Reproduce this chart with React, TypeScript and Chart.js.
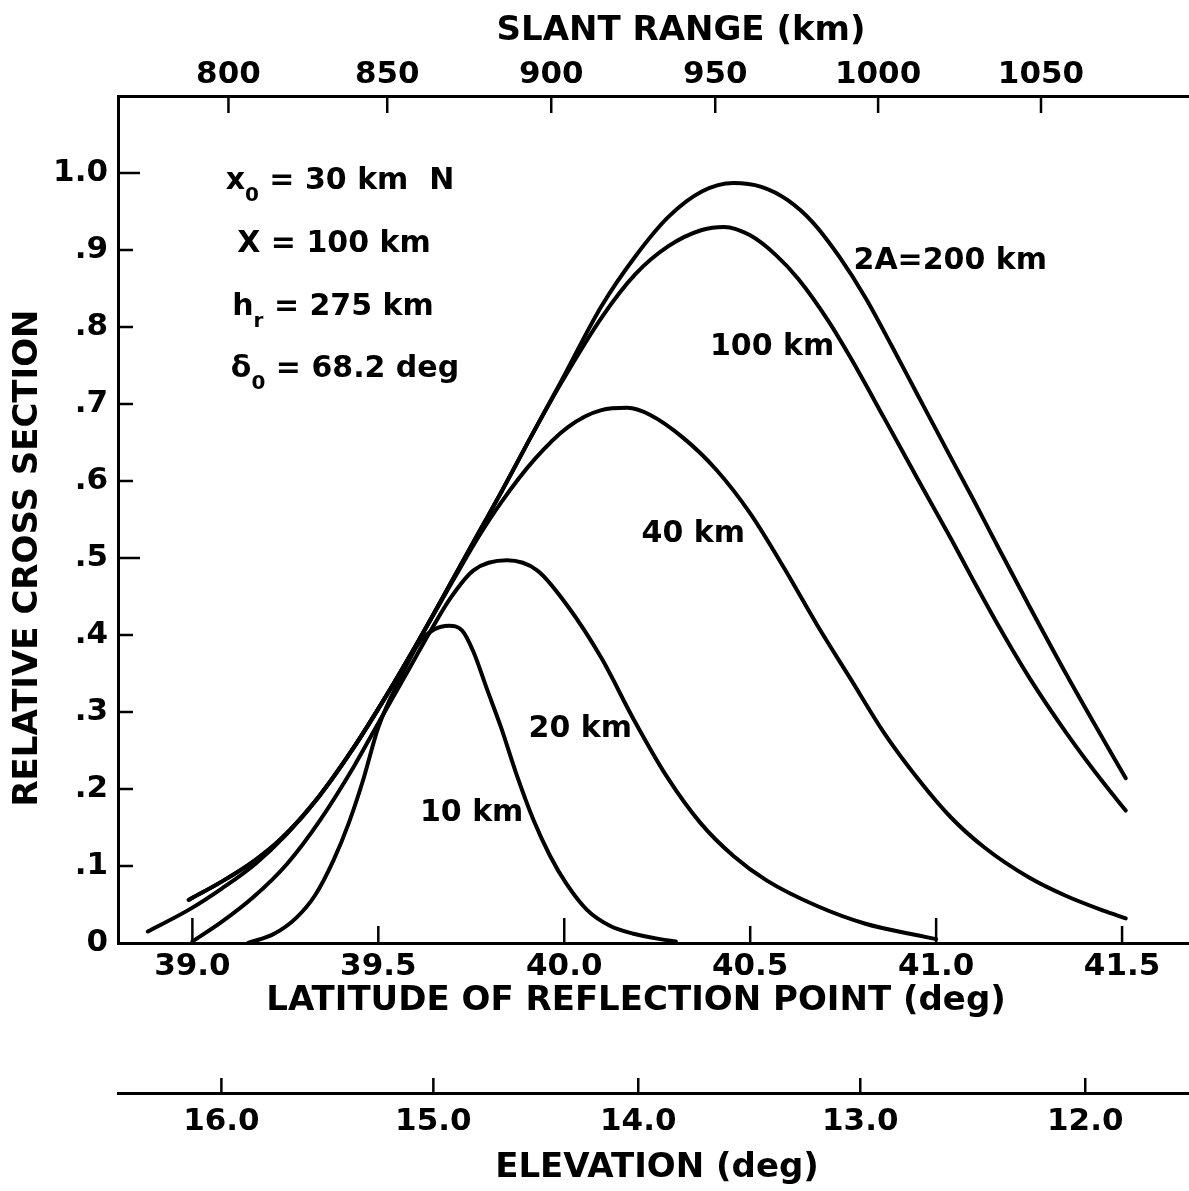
import React, { useEffect, useRef } from "react";
import { Chart, registerables } from "chart.js";

Chart.register(...registerables);

// ---- axis ticks ----
const latTicks = [39.0, 39.5, 40.0, 40.5, 41.0, 41.5];
const yTicks = [0, 0.1, 0.2, 0.3, 0.4, 0.5, 0.6, 0.7, 0.8, 0.9, 1.0];
const yTickLabels = ["0", ".1", ".2", ".3", ".4", ".5", ".6", ".7", ".8", ".9", "1.0"];
const slantRangeTicks = [800, 850, 900, 950, 1000, 1050];
const slantRangeTickLat = [39.097, 39.524, 39.965, 40.406, 40.844, 41.282];
const elevationTicks = ["16.0", "15.0", "14.0", "13.0", "12.0"];
const elevationTickLat = [39.078, 39.648, 40.199, 40.796, 41.401];

// ---- series: latitude (deg) vs relative cross section ----
const lat200 = [38.99, 39.08, 39.17, 39.24, 39.34, 39.43, 39.52, 39.61, 39.70, 39.77, 39.83, 39.91, 39.99, 40.10, 40.19, 40.28, 40.37, 40.455, 40.53, 40.60, 40.67, 40.74, 40.81, 40.88, 40.95, 41.04, 41.10, 41.17, 41.25, 41.35, 41.45, 41.51];
const rcs200 = [0.056, 0.080, 0.108, 0.136, 0.190, 0.251, 0.320, 0.394, 0.472, 0.533, 0.585, 0.657, 0.728, 0.827, 0.891, 0.943, 0.976, 0.987, 0.982, 0.965, 0.935, 0.891, 0.838, 0.776, 0.712, 0.630, 0.576, 0.511, 0.438, 0.349, 0.264, 0.214];

const lat100 = [38.99, 39.08, 39.17, 39.24, 39.34, 39.43, 39.52, 39.61, 39.70, 39.77, 39.83, 39.91, 39.99, 40.10, 40.19, 40.28, 40.37, 40.43, 40.50, 40.57, 40.63, 40.71, 40.77, 40.86, 40.95, 41.04, 41.10, 41.17, 41.25, 41.35, 41.45, 41.51];
const rcs100 = [0.056, 0.080, 0.108, 0.136, 0.190, 0.251, 0.320, 0.394, 0.472, 0.533, 0.585, 0.657, 0.726, 0.812, 0.868, 0.905, 0.926, 0.930, 0.919, 0.893, 0.862, 0.808, 0.760, 0.682, 0.603, 0.525, 0.471, 0.410, 0.345, 0.273, 0.208, 0.172];

const lat40 = [38.88, 38.99, 39.08, 39.17, 39.255, 39.34, 39.43, 39.52, 39.61, 39.70, 39.77, 39.83, 39.92, 40.01, 40.10, 40.17, 40.23, 40.32, 40.41, 40.50, 40.59, 40.68, 40.77, 40.86, 40.95, 41.04, 41.13, 41.25, 41.35, 41.45, 41.51];
const rcs40 = [0.015, 0.043, 0.071, 0.103, 0.142, 0.190, 0.251, 0.320, 0.394, 0.470, 0.528, 0.572, 0.628, 0.670, 0.692, 0.695, 0.686, 0.656, 0.614, 0.558, 0.488, 0.413, 0.343, 0.273, 0.214, 0.163, 0.124, 0.085, 0.061, 0.042, 0.032];

const lat20 = [39.00, 39.075, 39.165, 39.255, 39.344, 39.434, 39.49, 39.57, 39.64, 39.694, 39.756, 39.846, 39.927, 40.01, 40.10, 40.186, 40.276, 40.366, 40.455, 40.545, 40.68, 40.81, 40.95, 41.00];
const rcs20 = [0.002, 0.026, 0.060, 0.103, 0.160, 0.229, 0.277, 0.345, 0.405, 0.448, 0.484, 0.497, 0.484, 0.437, 0.370, 0.291, 0.216, 0.156, 0.113, 0.081, 0.048, 0.025, 0.010, 0.005];

const lat10 = [39.15, 39.22, 39.28, 39.33, 39.38, 39.42, 39.46, 39.50, 39.56, 39.61, 39.65, 39.69, 39.725, 39.756, 39.792, 39.83, 39.873, 39.917, 39.962, 40.007, 40.061, 40.124, 40.186, 40.258, 40.30];
const rcs10 = [0.0, 0.012, 0.033, 0.062, 0.108, 0.155, 0.213, 0.280, 0.345, 0.390, 0.407, 0.412, 0.406, 0.378, 0.330, 0.280, 0.217, 0.160, 0.113, 0.076, 0.043, 0.022, 0.012, 0.005, 0.002];

// ---- curve labels (placed in data coordinates) ----
const curveLabels = ["2A=200 km", "100 km", "40 km", "20 km", "10 km"];
const curveLabelLat = [41.038, 40.559, 40.347, 40.043, 39.751];
const curveLabelRcs = [0.886, 0.774, 0.531, 0.278, 0.169];

const FONT = '"DejaVu Sans", "Liberation Sans", sans-serif';

type Seg = { t: string; sub?: boolean };
const paramLines: Seg[][] = [
  [{ t: "x" }, { t: "0", sub: true }, { t: " = 30 km  N" }],
  [{ t: "X = 100 km" }],
  [{ t: "h" }, { t: "r", sub: true }, { t: " = 275 km" }],
  [{ t: "\u03b4" }, { t: "0", sub: true }, { t: " = 68.2 deg" }],
];

const decorPlugin = {
  id: "decor",
  afterDraw(chart: any) {
    const ctx: CanvasRenderingContext2D = chart.ctx;
    const sx = chart.scales.x;
    const sy = chart.scales.y;
    const sx2 = chart.scales.x2;
    const sx3 = chart.scales.x3;
    const area = chart.chartArea;
    ctx.save();
    ctx.strokeStyle = "#000";
    ctx.fillStyle = "#000";
    ctx.lineWidth = 2.5;
    const line = (a: number, b: number, c: number, d: number) => {
      ctx.beginPath();
      ctx.moveTo(a, b);
      ctx.lineTo(c, d);
      ctx.stroke();
    };
    // inward tick marks
    yTicks.forEach((v) => {
      if (v === 0) return;
      const py = sy.getPixelForValue(v);
      const major = Math.abs(v - 0.5) < 1e-6 || Math.abs(v - 1) < 1e-6;
      line(area.left, py, area.left + (major ? 22 : 15), py);
    });
    latTicks.forEach((v) => {
      const px = sx.getPixelForValue(v);
      const major = Math.abs(v - Math.round(v)) < 1e-6;
      line(px, area.bottom, px, area.bottom - (major ? 25 : 17));
    });
    slantRangeTickLat.forEach((v) => {
      const px = sx2.getPixelForValue(v);
      line(px, area.top, px, area.top + 17);
    });
    elevationTickLat.forEach((v) => {
      const px = sx3.getPixelForValue(v);
      line(px, sx3.top, px, sx3.top - 15);
    });

    // axis titles
    ctx.font = `bold 34px ${FONT}`;
    ctx.textAlign = "center";
    ctx.textBaseline = "middle";
    ctx.fillText("SLANT RANGE (km)", 681, 31);
    ctx.fillText("LATITUDE OF REFLECTION POINT (deg)", 636, 1001);
    ctx.fillText("ELEVATION (deg)", 657, 1168);
    ctx.save();
    ctx.translate(28, 558);
    ctx.rotate(-Math.PI / 2);
    ctx.fillText("RELATIVE CROSS SECTION", 0, 0);
    ctx.restore();

    // curve labels
    ctx.font = `bold 30px ${FONT}`;
    curveLabels.forEach((t, i) => {
      ctx.fillText(t, sx.getPixelForValue(curveLabelLat[i]), sy.getPixelForValue(curveLabelRcs[i]));
    });

    // parameter block
    const baselines = [189, 252, 315, 377];
    const centers = [340, 334, 333, 345];
    const mainFont = `bold 30px ${FONT}`;
    const subFont = `bold 20px ${FONT}`;
    ctx.textAlign = "left";
    ctx.textBaseline = "alphabetic";
    paramLines.forEach((segs, li) => {
      let total = 0;
      const widths = segs.map((s) => {
        ctx.font = s.sub ? subFont : mainFont;
        const w = ctx.measureText(s.t).width;
        total += w;
        return w;
      });
      let cx = centers[li] - total / 2;
      segs.forEach((s, si) => {
        ctx.font = s.sub ? subFont : mainFont;
        ctx.fillText(s.t, cx, baselines[li] + (s.sub ? 12 : 0));
        cx += widths[si];
      });
    });
    ctx.restore();
  },
};

const tickFont = { family: FONT, weight: "bold" as const, size: 31, lineHeight: 1 };

export default function App() {
  const ref = useRef<HTMLCanvasElement | null>(null);
  useEffect(() => {
    document.body.style.margin = "0";
    document.body.style.background = "#fff";
    if (!ref.current) return;
    const mk = (xs: number[], ys: number[]) => xs.map((x, i) => ({ x, y: ys[i] }));
    const lineStyle = {
      borderColor: "#000",
      borderWidth: 4,
      pointRadius: 0,
      fill: false,
      cubicInterpolationMode: "monotone" as const,
      borderCapStyle: "round" as const,
      borderJoinStyle: "round" as const,
      xAxisID: "x",
      yAxisID: "y",
    };
    const chart = new Chart(ref.current, {
      type: "line",
      data: {
        datasets: [
          { label: "2A=200 km", data: mk(lat200, rcs200), ...lineStyle },
          { label: "100 km", data: mk(lat100, rcs100), ...lineStyle },
          { label: "40 km", data: mk(lat40, rcs40), ...lineStyle },
          { label: "20 km", data: mk(lat20, rcs20), ...lineStyle },
          { label: "10 km", data: mk(lat10, rcs10), ...lineStyle },
        ],
      },
      options: {
        responsive: false,
        animation: false,
        layout: { padding: 0 },
        plugins: { legend: { display: false }, tooltip: { enabled: false }, title: { display: false } },
        scales: {
          x: {
            type: "linear",
            position: "bottom",
            min: 38.8,
            max: 41.68,
            weight: 0,
            afterFit: (s: any) => {
              s.height = 150;
            },
            afterBuildTicks: (s: any) => {
              s.ticks = latTicks.map((v) => ({ value: v }));
            },
            grid: { display: false, drawTicks: false },
            border: { display: true, width: 3, color: "#000" },
            ticks: {
              autoSkip: false,
              maxRotation: 0,
              minRotation: 0,
              padding: 8,
              color: "#000",
              font: tickFont,
              callback: (v: any) => Number(v).toFixed(1),
            },
          },
          x3: {
            type: "linear",
            position: "bottom",
            min: 38.8,
            max: 41.68,
            weight: 1,
            afterFit: (s: any) => {
              s.height = 98;
            },
            afterBuildTicks: (s: any) => {
              s.ticks = elevationTickLat.map((v) => ({ value: v }));
            },
            grid: { display: false, drawTicks: false },
            border: { display: true, width: 3, color: "#000" },
            ticks: {
              autoSkip: false,
              maxRotation: 0,
              minRotation: 0,
              padding: 13,
              color: "#000",
              font: tickFont,
              callback: (_v: any, i: number) => elevationTicks[i],
            },
          },
          x2: {
            type: "linear",
            position: "top",
            min: 38.8,
            max: 41.68,
            afterFit: (s: any) => {
              s.height = 96;
            },
            afterBuildTicks: (s: any) => {
              s.ticks = slantRangeTickLat.map((v) => ({ value: v }));
            },
            grid: { display: false, drawTicks: false },
            border: { display: true, width: 3, color: "#000" },
            ticks: {
              autoSkip: false,
              maxRotation: 0,
              minRotation: 0,
              padding: 6,
              color: "#000",
              font: tickFont,
              callback: (_v: any, i: number) => String(slantRangeTicks[i]),
            },
          },
          y: {
            type: "linear",
            position: "left",
            min: 0,
            max: 1.1,
            afterFit: (s: any) => {
              s.width = 118;
            },
            afterBuildTicks: (s: any) => {
              s.ticks = yTicks.map((v) => ({ value: v }));
            },
            grid: { display: false, drawTicks: false },
            border: { display: true, width: 3, color: "#000" },
            ticks: {
              autoSkip: false,
              padding: 10,
              color: "#000",
              font: tickFont,
              callback: (_v: any, i: number) => yTickLabels[i],
            },
          },
        },
      },
      plugins: [decorPlugin],
    });
    return () => chart.destroy();
  }, []);
  return (
    <div style={{ width: 1189, height: 1191, background: "#fff" }}>
      <canvas ref={ref} width={1189} height={1191} style={{ display: "block" }} />
    </div>
  );
}
